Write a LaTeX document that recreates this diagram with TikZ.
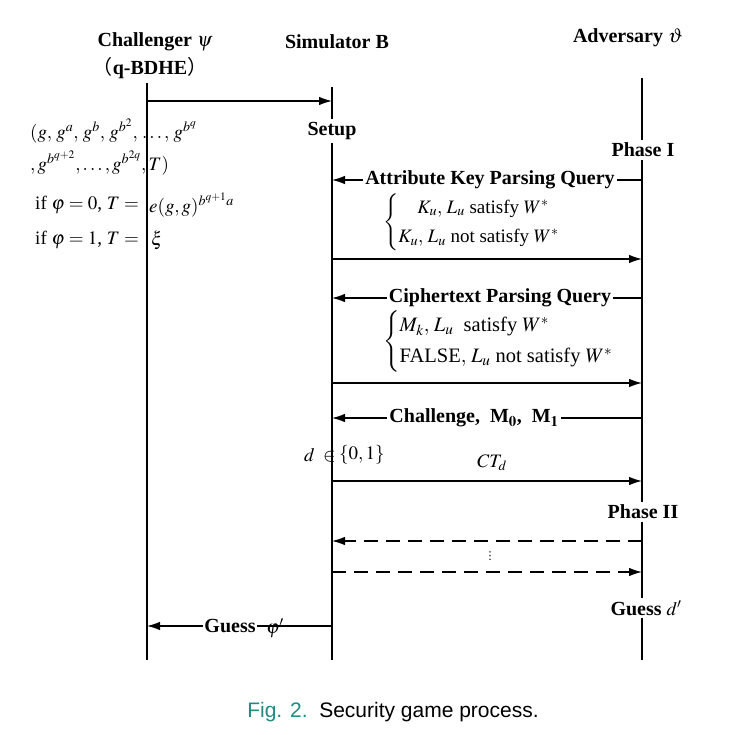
\documentclass[tikz,border=0pt]{standalone}
\usepackage{mathptmx}
\usepackage{fontspec}
\setmainfont{Liberation Serif}[BoldFont={Liberation Serif Bold},ItalicFont={Liberation Serif Italic}]
\renewcommand\bfdefault{bx}
\newfontfamily\bff{Liberation Serif Bold}
\newfontfamily\capfont{Liberation Sans}
\newfontfamily\cjkf{Noto Sans CJK SC}
\newfontfamily\dejavu{DejaVu Sans}
\usetikzlibrary{arrows.meta}
\definecolor{figteal}{RGB}{30,140,130}
\begin{document}
\begin{tikzpicture}[x=1pt,y=-1pt,
  life/.style={line width=1.4pt},
  msg/.style={line width=1.2pt,-{Latex[length=13pt,width=8.5pt]}},
  dmsg/.style={msg,dash pattern=on 14pt off 8pt},
  hd/.style={font=\fontsize{20}{22}\bff,inner sep=1pt},
  lbl/.style={font=\fontsize{20}{22}\bff,fill=white,inner xsep=2pt,inner ysep=0pt},
  txt/.style={font=\fontsize{19}{22}\selectfont,inner sep=0pt},
  brc/.style={font=\fontsize{19}{22}\selectfont,inner sep=0pt,anchor=west}]
\useasboundingbox (0,0) rectangle (750,735);
% lifelines
\coordinate (ctop) at (147,83);  \coordinate (cbot) at (147,660);
\coordinate (stop) at (332,87);  \coordinate (sbot) at (332,660);
\coordinate (atop) at (642,78);  \coordinate (abot) at (642,660);
\draw[life] (ctop) -- (cbot);
\draw[life] (stop) -- (sbot);
\draw[life] (atop) -- (abot);
% headers
\node[hd] (hc) at (155,42) {Challenger $\psi$};
\node[hd] (hq) at (150,68) {{\cjkf （}q-BDHE{\cjkf ）}};
\node[hd] (hs) at (337,42) {Simulator B};
\node[hd] (ha) at (628,38) {Adversary $\vartheta$};
% phase labels on lifelines
\node[hd,fill=white,inner sep=3pt] (setup) at (332,131) {Setup};
\node[hd,fill=white,inner sep=3pt] (ph1) at (643,150) {Phase I};
\node[hd,fill=white,inner sep=3pt] (ph2) at (643,512) {Phase II};
\node[hd,fill=white,inner sep=3pt] (gd) at (646,608) {Guess \textnormal{\fontsize{19}{22}\selectfont$d'$}};
% left column text
\node[txt,anchor=west] (l1) at (30,131) {$(g,\,g^{a},\,g^{b},\,g^{b^2},\,\ldots,\,g^{b^{q}}$};
\node[txt,anchor=west] (l2) at (30,163) {$,g^{b^{q+2}},\ldots,g^{b^{2q}},T)$};
\node[txt,anchor=east] (l3a) at (139,205) {if $\varphi=0$, $T=$};
\node[txt,anchor=west] (l3b) at (149,205) {$e(g,g)^{b^{q+1}a}$};
\node[txt,anchor=east] (l4a) at (139,240) {if $\varphi=1$, $T=$};
\node[txt,anchor=west] (l4b) at (151,240) {$\xi$};
% setup message
\coordinate (m1a) at (147,101); \coordinate (m1b) at (332,101);
\draw[msg] (m1a) -- (m1b);
% attribute key parsing query
\coordinate (m2a) at (642,180); \coordinate (m2b) at (332,180);
\draw[msg] (m2a) -- (m2b);
\node[lbl] (q1) at (490,180) {Attribute Key Parsing Query};
\node[brc] (b1) at (383,222) {\renewcommand\arraystretch{1.35}$\left\{\begin{array}{@{}l@{}}\quad K_u,\,L_u\ \textnormal{satisfy}\ W^{*}\\ K_u,\,L_u\ \textnormal{not satisfy}\ W^{*}\end{array}\right.$};
\coordinate (m3a) at (332,259); \coordinate (m3b) at (642,259);
\draw[msg] (m3a) -- (m3b);
% ciphertext parsing query
\coordinate (m4a) at (642,298); \coordinate (m4b) at (332,298);
\draw[msg] (m4a) -- (m4b);
\node[lbl] (q2) at (500,298) {Ciphertext Parsing Query};
\node[brc,font=\fontsize{20.5}{22}\selectfont] (b2) at (383,341) {\renewcommand\arraystretch{1.4}$\left\{\begin{array}{@{}l@{}}M_k,\,L_u\ \ \textnormal{satisfy}\ W^{*}\\ \textnormal{FALSE},\,L_u\ \textnormal{not satisfy}\ W^{*}\end{array}\right.$};
\coordinate (m5a) at (332,383); \coordinate (m5b) at (642,383);
\draw[msg] (m5a) -- (m5b);
% challenge
\coordinate (m6a) at (642,418); \coordinate (m6b) at (332,418);
\draw[msg] (m6a) -- (m6b);
\node[lbl] (q3) at (474,418) {Challenge,\ \ M$_{\mathbf{0}}$,\ \ M$_{\mathbf{1}}$};
\node[txt,anchor=east] (dd) at (336,455) {$d\;\in$};
\node[txt,anchor=west] (dset) at (339,455) {$\{0,1\}$};
\node[txt] (ct) at (492,463) {$CT_d$};
\coordinate (m7a) at (332,481); \coordinate (m7b) at (642,481);
\draw[msg] (m7a) -- (m7b);
% phase II dashed
\coordinate (m8a) at (642,541); \coordinate (m8b) at (332,541);
\draw[dmsg] (m8a) -- (m8b);
\node[font=\dejavu\fontsize{11}{12}\selectfont,inner sep=0pt] (dots) at (490,556) {⋮};
\coordinate (m9a) at (332,572); \coordinate (m9b) at (642,572);
\draw[dmsg] (m9a) -- (m9b);
% guess phi
\coordinate (m10a) at (332,626); \coordinate (m10b) at (147,626);
\draw[msg] (m10a) -- (m10b);
\node[lbl,inner sep=1pt] (gp) at (230,626) {Guess};
\node[txt] (gphi) at (275,628) {$\varphi'$};
% caption
\node[font=\capfont\fontsize{21}{24}\selectfont,inner sep=0pt] (cap) at (393,712) {{\color{figteal}Fig. 2.}\ \ Security game process.};
\end{tikzpicture}
\end{document}
